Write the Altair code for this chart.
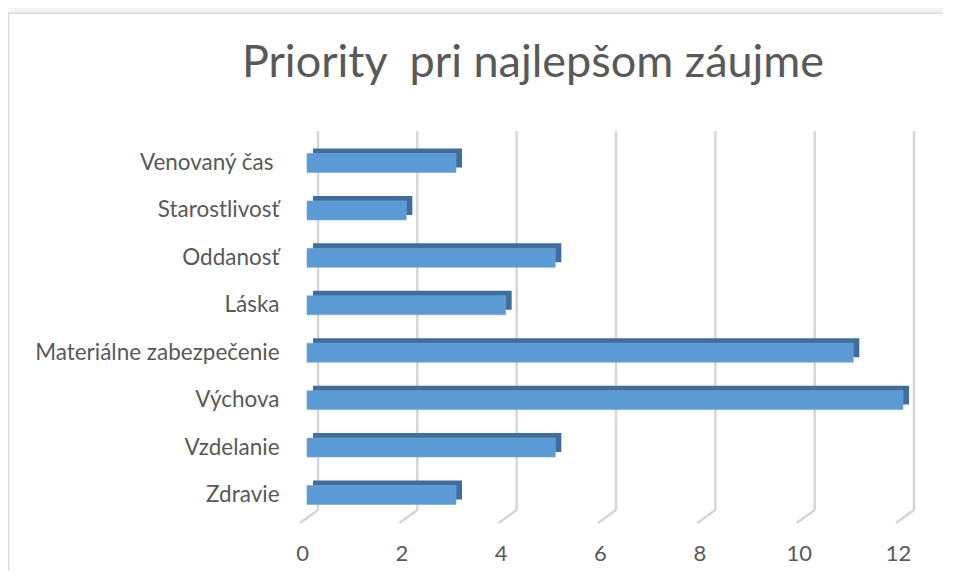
import altair as alt
import pandas as pd

categories = ["Venovaný čas ", "Starostlivosť", "Oddanosť", "Láska",
              "Materiálne zabezpečenie", "Výchova", "Vzdelanie", "Zdravie"]
values = [3, 2, 5, 4, 11, 12, 5, 3]
x_ticks = [0, 2, 4, 6, 8, 10, 12]
title_text = "Priority\u00a0 pri najlepšom záujme"

bars_df = pd.DataFrame({"cat": categories, "val": values})
grid_df = pd.DataFrame({"t": x_ticks})
one = pd.DataFrame({"k": [0]})

FONT = "Lato"
TXT = "#595959"
W, H = 596, 379.4

xscale = alt.Scale(domain=[0, 12], nice=False, zero=True)
yscale = alt.Scale(domain=categories, paddingInner=0.6, paddingOuter=0.3)

panel = alt.Chart(one).mark_rect(fill="white", stroke="#d9d9d9", strokeWidth=1.5).encode(
    x=alt.value(-298.5), x2=alt.value(1000), y=alt.value(-126), y2=alt.value(1000)
)

grid = alt.Chart(grid_df).mark_rule(color="#d6d6d6", strokeWidth=2.5, xOffset=11).encode(
    x=alt.X("t:Q", scale=xscale, title=None,
            axis=alt.Axis(values=x_ticks, grid=False, domain=False, ticks=False, zindex=2,
                          labelFont=FONT, labelFontSize=22, labelColor=TXT, labelFlush=False,
                          labelOffset=-5, labelPadding=25)),
    y=alt.value(-8), y2=alt.value(370.7)
)

feet = alt.Chart(grid_df).mark_rule(color="#d6d6d6", strokeWidth=2.5, xOffset=11, x2Offset=-7).encode(
    x=alt.X("t:Q", scale=xscale), x2="t:Q", y=alt.value(370.7), y2=alt.value(383.7)
)

title = alt.Chart(one).mark_text(
    text=title_text, fontSize=45, font=FONT, color=TXT, align="center",
    baseline="alphabetic"
).encode(x=alt.value(226), y=alt.value(-62))

back = alt.Chart(bars_df).mark_bar(
    color="#3f6e9c", xOffset=6, x2Offset=6, yOffset=-5, y2Offset=-5
).encode(
    x=alt.X("val:Q", scale=xscale),
    y=alt.Y("cat:N", scale=yscale, sort=categories, title=None,
            axis=alt.Axis(grid=False, domain=False, ticks=False, zindex=2,
                          labelPadding={"expr": "slice(datum.value, -1) == ' ' ? 34 : 28"},
                          labelFont=FONT, labelFontSize=22.5, labelColor=TXT,
                          labelLimit=400)),
)

front = alt.Chart(bars_df).mark_bar(color="#5b9bd5", stroke="#7aa6d2", strokeWidth=0.6).encode(
    x=alt.X("val:Q", scale=xscale),
    y=alt.Y("cat:N", scale=yscale, sort=categories),
)

chart = alt.layer(panel, grid, feet, title, back, front).properties(
    width=W, height=H,
    autosize=alt.AutoSizeParams(type="none"),
    padding={"left": 299, "top": 131.3, "right": 40, "bottom": 52},
    background="#f4f1f8",
).configure_view(stroke=None)

chart.save("out.html", embed_options={"renderer": "svg", "actions": False})
